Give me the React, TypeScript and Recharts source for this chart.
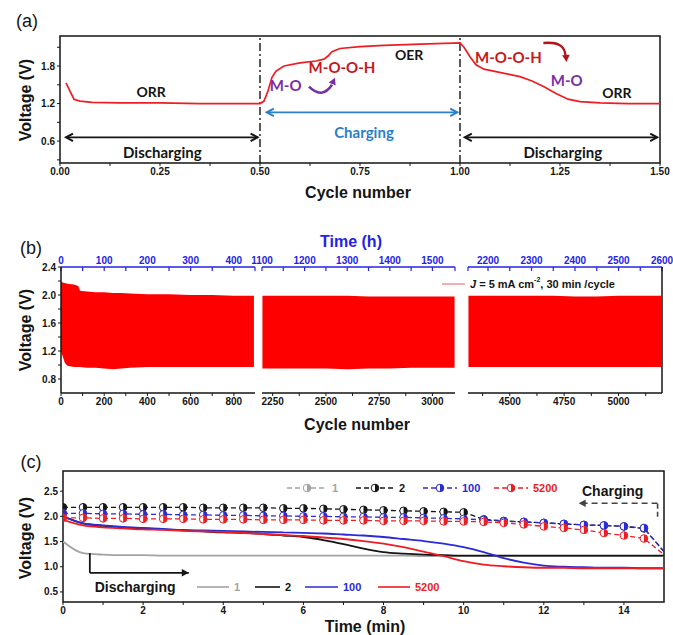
import {
  Area,
  ComposedChart,
  Legend,
  Line,
  LineChart,
  ReferenceArea,
  ReferenceDot,
  ReferenceLine,
  XAxis,
  YAxis,
} from "recharts";

const SANS = '"Liberation Sans", Arial, sans-serif';
const NOTE = 'Lato, "Open Sans", sans-serif';

const INK = "#151515";
const RED = "#ee1d23";
const BLUE = "#2323e6";
const GRAY = "#a3a3a3";
const NAVY = "#2b2bd6";

// (a) one and a half cycles
const cycleA = [
  0.015, 0.025, 0.035, 0.05, 0.08, 0.15, 0.25, 0.35, 0.45, 0.5, 0.51, 0.52, 0.53, 0.54, 0.56, 0.6, 0.64,
  0.66, 0.67, 0.68, 0.7, 0.75, 0.81, 0.9, 1.0, 1.01, 1.025, 1.04, 1.06, 1.09, 1.12, 1.15, 1.18, 1.21, 1.24,
  1.27, 1.3, 1.35, 1.42, 1.5,
];
const voltA = [
  1.53, 1.4, 1.27, 1.24, 1.22, 1.21, 1.21, 1.2, 1.2, 1.2, 1.24, 1.4, 1.62, 1.72, 1.8, 1.85, 1.88, 1.91,
  1.96, 2.03, 2.08, 2.11, 2.13, 2.15, 2.17, 2.1, 1.95, 1.82, 1.75, 1.71, 1.67, 1.63, 1.56, 1.47, 1.36, 1.27,
  1.23, 1.21, 1.2, 1.2,
];

// (b) envelope of the cycling band, three windows of the test
const seg1Cycle = [0, 8, 18, 30, 60, 80, 88, 120, 160, 200, 240, 280, 320, 400, 500, 600, 700, 800, 893];
const seg1Low = [1.2, 1.12, 1.03, 0.99, 0.97, 0.97, 0.97, 0.96, 0.96, 0.95, 0.94, 0.95, 0.96, 0.97, 0.97, 0.97, 0.97, 0.97, 0.97];
const seg1High = [2.19, 2.18, 2.17, 2.16, 2.15, 2.13, 2.06, 2.05, 2.04, 2.04, 2.03, 2.03, 2.02, 2.01, 2.01, 2.0, 2.0, 1.99, 1.99];

const seg2Cycle = [2202, 2300, 2400, 2500, 2600, 2700, 2800, 2900, 3000, 3104];
const seg2Low = [0.95, 0.95, 0.95, 0.95, 0.94, 0.95, 0.95, 0.96, 0.96, 0.96];
const seg2High = [1.99, 1.99, 1.99, 1.99, 1.99, 1.98, 1.98, 1.98, 1.98, 1.98];

const seg3Cycle = [4310, 4400, 4500, 4600, 4700, 4800, 4900, 5000, 5100, 5196];
const seg3Low = [0.97, 0.97, 0.97, 0.97, 0.97, 0.97, 0.97, 0.97, 0.97, 0.97];
const seg3High = [1.99, 1.99, 1.99, 1.99, 1.99, 1.98, 1.98, 1.99, 1.99, 1.99];

// (c) selected cycles, every half minute
const timeC = [
  0, 0.5, 1, 1.5, 2, 2.5, 3, 3.5, 4, 4.5, 5, 5.5, 6, 6.5, 7, 7.5, 8, 8.5, 9, 9.5, 10, 10.5, 11, 11.5, 12,
  12.5, 13, 13.5, 14, 14.5, 15,
];
const cycleNames = ["1", "2", "100", "5200"];

const charge2 = [
  2.18, 2.18, 2.18, 2.18, 2.18, 2.18, 2.18, 2.17, 2.17, 2.17, 2.17, 2.16, 2.16, 2.15, 2.14, 2.13, 2.12,
  2.11, 2.1, 2.09, 2.08, 1.94, 1.91, 1.89, 1.87, 1.85, 1.83, 1.82, 1.8, 1.76, 1.3,
];
const charge100 = [
  2.06, 2.06, 2.05, 2.05, 2.04, 2.04, 2.03, 2.03, 2.02, 2.02, 2.01, 2.01, 2.0, 2.0, 1.99, 1.99, 1.98, 1.98,
  1.97, 1.96, 1.95, 1.93, 1.9, 1.89, 1.87, 1.85, 1.83, 1.82, 1.8, 1.77, 1.3,
];
const charge5200 = [
  1.97, 1.97, 1.96, 1.96, 1.95, 1.95, 1.95, 1.94, 1.94, 1.94, 1.93, 1.93, 1.93, 1.92, 1.92, 1.92, 1.91,
  1.91, 1.91, 1.9, 1.9, 1.89, 1.87, 1.84, 1.8, 1.77, 1.73, 1.67, 1.62, 1.56, 1.24,
];

const discharge1 = [
  1.5, 1.27, 1.24, 1.23, 1.23, 1.22, 1.22, 1.22, 1.22, 1.22, 1.22, 1.22, 1.22, 1.22, 1.22, 1.22, 1.22,
  1.22, 1.21, 1.21, 1.21, 1.21, 1.21, 1.21, 1.21, 1.21, 1.21, 1.21, 1.21, 1.21, 1.21,
];
const discharge2 = [
  2.0, 1.86, 1.81, 1.78, 1.76, 1.74, 1.72, 1.7, 1.68, 1.67, 1.65, 1.62, 1.59, 1.53, 1.45, 1.36, 1.29,
  1.26, 1.24, 1.23, 1.22, 1.22, 1.22, 1.22, 1.22, 1.22, 1.22, 1.22, 1.22, 1.22, 1.22,
];
const discharge100 = [
  2.0, 1.86, 1.82, 1.79, 1.77, 1.75, 1.73, 1.72, 1.71, 1.7, 1.69, 1.68, 1.67, 1.66, 1.64, 1.62, 1.59,
  1.55, 1.51, 1.46, 1.39, 1.29, 1.17, 1.08, 1.02, 1.0, 0.99, 0.98, 0.98, 0.97, 0.97,
];
const discharge5200 = [
  1.93, 1.82, 1.78, 1.76, 1.74, 1.73, 1.71, 1.7, 1.69, 1.67, 1.65, 1.63, 1.61, 1.58, 1.55, 1.51, 1.46,
  1.39, 1.3, 1.21, 1.11, 1.04, 1.01, 0.99, 0.98, 0.98, 0.97, 0.97, 0.97, 0.97, 0.97,
];

const tickFont = { fill: INK, fontSize: 10, fontWeight: 700, fontFamily: SANS };

const toRows = (xs: number[], ys: number[]) => xs.map((t, i) => ({ t, v: ys[i] }));
const toBand = (xs: number[], lo: number[], hi: number[]) => xs.map((cycle, i) => ({ cycle, band: [lo[i], hi[i]] }));

function head(x: number, y: number, a: number, color: string, open: boolean) {
  const L = 7;
  const W = 3.8;
  const bx = x - L * Math.cos(a);
  const by = y - L * Math.sin(a);
  const nx = -Math.sin(a) * W;
  const ny = Math.cos(a) * W;
  const pts = `${bx + nx},${by + ny} ${x},${y} ${bx - nx},${by - ny}`;
  return open ? (
    <polyline points={pts} fill="none" stroke={color} strokeWidth={2} />
  ) : (
    <polygon points={pts} fill={color} stroke="none" />
  );
}

function arrow(color: string, heads: "none" | "end" | "both", open = true, dash?: string, width = 1.8) {
  return (p: any) => {
    const { x1, y1, x2, y2 } = p;
    const a = Math.atan2(y2 - y1, x2 - x1);
    return (
      <g>
        <line x1={x1} y1={y1} x2={x2} y2={y2} stroke={color} strokeWidth={width} strokeDasharray={dash} />
        {heads !== "none" && head(x2, y2, a, color, open)}
        {heads === "both" && head(x1, y1, a + Math.PI, color, open)}
      </g>
    );
  };
}

function note(text: string, color: string, size = 14, family = NOTE) {
  return (p: any) => (
    <text
      x={p.cx}
      y={p.cy}
      fill={color}
      fontSize={size}
      fontWeight={700}
      fontFamily={family}
      textAnchor="middle"
      dominantBaseline="central"
    >
      {text}
    </text>
  );
}

function Caption({ x, y, text, size = 16, color = INK, rotate = false, weight = 700 }: any) {
  return (
    <div
      style={{
        position: "absolute",
        left: x,
        top: y,
        transform: `translate(-50%, -50%)${rotate ? " rotate(-90deg)" : ""}`,
        fontFamily: SANS,
        fontSize: size,
        fontWeight: weight,
        color,
        whiteSpace: "nowrap",
        lineHeight: 1,
      }}
    >
      {text}
    </div>
  );
}

function PanelA() {
  const rows = toRows(cycleA, voltA);
  const yDom: [number, number] = [0.25, 2.28];
  return (
    <div style={{ position: "absolute", left: 0, top: 0 }}>
      <LineChart width={673} height={200} data={rows} margin={{ top: 36, right: 13, bottom: 0, left: 0 }}>
        <XAxis
          type="number"
          dataKey="t"
          domain={[0, 1.5]}
          allowDataOverflow
          ticks={[0, 0.125, 0.25, 0.375, 0.5, 0.625, 0.75, 0.875, 1, 1.125, 1.25, 1.375, 1.5]}
          tickFormatter={(v: number) => (Number.isInteger(v * 4) ? v.toFixed(2) : "")}
          interval={0}
          height={37}
          tickSize={3}
          axisLine={false}
          tickLine={{ stroke: INK }}
          tick={tickFont}
        />
        <YAxis
          type="number"
          domain={yDom}
          allowDataOverflow
          ticks={[0.3, 0.6, 0.9, 1.2, 1.5, 1.8, 2.1]}
          tickFormatter={(v: number) => (Math.abs(v / 0.6 - Math.round(v / 0.6)) < 1e-6 ? v.toFixed(1) : "")}
          interval={0}
          width={60}
          tickSize={3}
          axisLine={false}
          tickLine={{ stroke: INK }}
          tick={tickFont}
        />
        <ReferenceArea x1={0} x2={1.5} y1={yDom[0]} y2={yDom[1]} fill="none" stroke={INK} strokeWidth={1.5} ifOverflow="visible" />
        <ReferenceLine x={0.5} stroke={INK} strokeWidth={1.4} strokeDasharray="8 3 2 3" />
        <ReferenceLine x={1.0} stroke={INK} strokeWidth={1.4} strokeDasharray="8 3 2 3" />
        <ReferenceLine segment={[{ x: 0.015, y: 0.66 }, { x: 0.494, y: 0.66 }]} shape={arrow(INK, "both")} ifOverflow="visible" />
        <ReferenceLine segment={[{ x: 0.517, y: 1.06 }, { x: 0.993, y: 1.06 }]} shape={arrow("#2a7fc9", "both")} ifOverflow="visible" />
        <ReferenceLine segment={[{ x: 1.012, y: 0.66 }, { x: 1.493, y: 0.66 }]} shape={arrow(INK, "both")} ifOverflow="visible" />
        <ReferenceDot x={0.228} y={1.39} shape={note("ORR", INK, 14)} />
        <ReferenceDot x={0.256} y={0.42} shape={note("Discharging", INK, 15)} />
        <ReferenceDot x={0.76} y={0.74} shape={note("Charging", "#2a7fc9", 15)} />
        <ReferenceDot x={0.564} y={1.5} shape={note("M-O", "#7b2fa6", 15)} />
        <ReferenceDot x={0.705} y={1.78} shape={note("M-O-O-H", "#c8161d", 15)} />
        <ReferenceDot x={0.873} y={1.98} shape={note("OER", INK, 14)} />
        <ReferenceDot x={1.121} y={1.95} shape={note("M-O-O-H", "#c8161d", 15)} />
        <ReferenceDot x={1.267} y={1.58} shape={note("M-O", "#7b2fa6", 15)} />
        <ReferenceDot x={1.392} y={1.38} shape={note("ORR", INK, 14)} />
        <ReferenceDot x={1.257} y={0.42} shape={note("Discharging", INK, 15)} />
        <ReferenceDot
          x={0.655}
          y={1.47}
          shape={(p: any) => (
            <g>
              <path d={`M${p.cx - 13},${p.cy} Q${p.cx},${p.cy + 13} ${p.cx + 10},${p.cy - 2}`} fill="none" stroke="#7b2fa6" strokeWidth={2.6} />
              {head(p.cx + 13, p.cy - 9, -1.15, "#7b2fa6", false)}
            </g>
          )}
        />
        <ReferenceDot
          x={1.236}
          y={2.04}
          shape={(p: any) => (
            <g>
              <path d={`M${p.cx - 11},${p.cy - 8} Q${p.cx + 10},${p.cy - 10} ${p.cx + 11},${p.cy + 4}`} fill="none" stroke="#b5121b" strokeWidth={2.4} />
              {head(p.cx + 12, p.cy + 11, 1.5, "#b5121b", false)}
            </g>
          )}
        />
        <Line dataKey="v" type="linear" stroke={RED} strokeWidth={1.7} dot={false} isAnimationActive={false} />
      </LineChart>
    </div>
  );
}

type SegProps = {
  left: number;
  width: number;
  ml: number;
  rows: { cycle: number; band: number[] }[];
  domain: [number, number];
  bottomTicks: number[];
  topTicks: number[];
  side: "left" | "none" | "right";
  legend?: boolean;
};

// 30 min per cycle: the time axis on top is the cycle axis over two
const hourOf = (r: any) => r.cycle / 2;
const upperOf = (r: any) => r.band[1];

function Segment({ left, width, ml, rows, domain, bottomTicks, topTicks, side, legend }: SegProps) {
  const yDom: [number, number] = [0.6, 2.4];
  return (
    <div style={{ position: "absolute", left, top: 225 }}>
      <ComposedChart width={width} height={200} data={rows} margin={{ top: 41, right: 10, bottom: 0, left: ml }}>
        <XAxis
          type="number"
          dataKey="cycle"
          domain={domain}
          allowDataOverflow
          ticks={bottomTicks}
          tickFormatter={(v: number) => (v % 200 === 0 && v < 1000) || (v > 1000 && v % 250 === 0) ? String(v) : ""}
          interval={0}
          height={32}
          tickSize={3}
          axisLine={{ stroke: INK, strokeWidth: 1.5 }}
          tickLine={{ stroke: INK }}
          tick={tickFont}
        />
        <XAxis
          xAxisId="top"
          orientation="top"
          type="number"
          dataKey={hourOf}
          domain={[domain[0] / 2, domain[1] / 2]}
          allowDataOverflow
          ticks={topTicks}
          tickFormatter={(v: number) => (v % 100 === 0 ? String(v) : "")}
          interval={0}
          height={1}
          tickSize={-4}
          tickMargin={7}
          axisLine={{ stroke: BLUE, strokeWidth: 1.6 }}
          tickLine={{ stroke: BLUE, strokeWidth: 1.2 }}
          tick={{ ...tickFont, fill: BLUE }}
        />
        {side === "left" && (
          <YAxis
            type="number"
            domain={yDom}
            allowDataOverflow
            ticks={[0.8, 1.0, 1.2, 1.4, 1.6, 1.8, 2.0, 2.2, 2.4]}
            tickFormatter={(v: number) => (Math.round(v * 10) % 4 === 0 ? v.toFixed(1) : "")}
            interval={0}
            width={61}
            tickSize={3}
            axisLine={{ stroke: INK, strokeWidth: 1.5 }}
            tickLine={{ stroke: INK }}
            tick={tickFont}
          />
        )}
        {side === "none" && <YAxis type="number" domain={yDom} allowDataOverflow hide />}
        {side === "right" && (
          <YAxis
            type="number"
            orientation="right"
            domain={yDom}
            allowDataOverflow
            width={1}
            tick={false}
            axisLine={{ stroke: INK, strokeWidth: 1.5 }}
          />
        )}
        {legend && (
          <Legend
            layout="horizontal"
            verticalAlign="middle"
            align="center"
            wrapperStyle={{ left: 0, top: 0, width: 248, height: 80 }}
            content={() => (
              <svg width={248} height={80}>
                <line x1={17} y1={59} x2={40} y2={59} stroke="#f29a9a" strokeWidth={1.6} />
                <text x={45} y={59} dominantBaseline="central" fontFamily={SANS} fontSize={11} fontWeight={700} fill={INK}>
                  <tspan fontStyle="italic">J</tspan>
                  <tspan> = 5 mA cm</tspan>
                  <tspan fontSize={7} dy={-5}>-2</tspan>
                  <tspan dy={5}>,  30 min /cycle</tspan>
                </text>
              </svg>
            )}
          />
        )}
        <Area dataKey="band" type="linear" stroke="none" fill="#ff0000" fillOpacity={1} isAnimationActive={false} />
        <Line
          xAxisId="top"
          dataKey={upperOf}
          stroke="none"
          dot={false}
          activeDot={false}
          legendType="none"
          isAnimationActive={false}
        />
      </ComposedChart>
    </div>
  );
}

function PanelB() {
  const d1: [number, number] = [0, 898];
  const d2: [number, number] = [2200, 3106];
  const d3: [number, number] = [4308, 5200];
  return (
    <>
      <Segment
        left={0}
        width={265}
        ml={0}
        rows={toBand(seg1Cycle, seg1Low, seg1High)}
        domain={d1}
        bottomTicks={[0, 100, 200, 300, 400, 500, 600, 700, 800]}
        topTicks={[0, 50, 100, 150, 200, 250, 300, 350, 400, 449]}
        side="left"
      />
      <Segment
        left={252}
        width={213}
        ml={10}
        rows={toBand(seg2Cycle, seg2Low, seg2High)}
        domain={d2}
        bottomTicks={[2250, 2375, 2500, 2625, 2750, 2875, 3000]}
        topTicks={[1100, 1150, 1200, 1250, 1300, 1350, 1400, 1450, 1500, 1553]}
        side="none"
      />
      <Segment
        left={425}
        width={248}
        ml={43}
        rows={toBand(seg3Cycle, seg3Low, seg3High)}
        domain={d3}
        bottomTicks={[4375, 4500, 4625, 4750, 4875, 5000, 5125]}
        topTicks={[2154, 2200, 2250, 2300, 2350, 2400, 2450, 2500, 2550, 2600]}
        side="right"
        legend
      />
    </>
  );
}

function halfDot(color: string) {
  return (p: any) => {
    const { cx, cy, index } = p;
    if (cx == null || index === timeC.length - 1) return <g key={`d${index}`} />;
    const r = 3.8;
    return (
      <g key={`d${index}`}>
        <circle cx={cx} cy={cy} r={r} fill="#fff" stroke={color} strokeWidth={1} />
        <path d={`M${cx},${cy - r} A${r},${r} 0 0 1 ${cx},${cy + r} Z`} fill={color} />
      </g>
    );
  };
}

function LegendC() {
  const colors = [GRAY, INK, NAVY, RED];
  const topX = [287, 356, 423, 494];
  const topW = [40, 38, 34, 34];
  const botX = [197, 255, 305, 378];
  const botW = [32, 25, 33, 32];
  const r = 3.8;
  return (
    <svg width={673} height={185}>
      {cycleNames.map((name, i) => {
        const c = colors[i];
        const mx = topX[i] + topW[i] / 2;
        return (
          <g key={`t${name}`}>
            <line x1={topX[i]} y1={38} x2={topX[i] + topW[i]} y2={38} stroke={c} strokeWidth={1.4} strokeDasharray="5 3" />
            <circle cx={mx} cy={38} r={r} fill="#fff" stroke={c} strokeWidth={1} />
            <path d={`M${mx},${38 - r} A${r},${r} 0 0 1 ${mx},${38 + r} Z`} fill={c} />
            <text x={topX[i] + topW[i] + 5} y={38} dominantBaseline="central" fontFamily={SANS} fontSize={11} fontWeight={700} fill={c}>
              {name}
            </text>
          </g>
        );
      })}
      {cycleNames.map((name, i) => {
        const c = colors[i];
        return (
          <g key={`b${name}`}>
            <line x1={botX[i]} y1={137} x2={botX[i] + botW[i]} y2={137} stroke={c} strokeWidth={1.6} />
            <text x={botX[i] + botW[i] + 5} y={137} dominantBaseline="central" fontFamily={SANS} fontSize={11} fontWeight={700} fill={c}>
              {name}
            </text>
          </g>
        );
      })}
    </svg>
  );
}

function PanelC() {
  const yDom: [number, number] = [0.3, 2.9];
  const charges = [
    { name: "2", color: INK, ys: charge2 },
    { name: "100", color: NAVY, ys: charge100 },
    { name: "5200", color: RED, ys: charge5200 },
  ];
  const discharges = [
    { name: "1", color: GRAY, ys: discharge1 },
    { name: "2", color: INK, ys: discharge2 },
    { name: "100", color: NAVY, ys: discharge100 },
    { name: "5200", color: RED, ys: discharge5200 },
  ];
  return (
    <div style={{ position: "absolute", left: 0, top: 450 }}>
      <LineChart width={673} height={185} margin={{ top: 20, right: 9, bottom: 0, left: 0 }}>
        <XAxis
          type="number"
          dataKey="t"
          domain={[0, 15]}
          allowDataOverflow
          ticks={[0, 1, 2, 3, 4, 5, 6, 7, 8, 9, 10, 11, 12, 13, 14]}
          tickFormatter={(v: number) => (v % 2 === 0 ? String(v) : "")}
          interval={0}
          height={33}
          tickSize={3}
          axisLine={false}
          tickLine={{ stroke: INK }}
          tick={tickFont}
        />
        <XAxis
          xAxisId="top"
          orientation="top"
          type="number"
          dataKey="t"
          domain={[0, 15]}
          allowDataOverflow
          ticks={[1, 2, 3, 4, 5, 6, 7, 8, 9, 10, 11, 12, 13, 14]}
          tick={false}
          interval={0}
          height={1}
          tickSize={-3}
          axisLine={false}
          tickLine={{ stroke: INK }}
        />
        <YAxis
          type="number"
          domain={yDom}
          allowDataOverflow
          ticks={[0.5, 1.0, 1.5, 2.0, 2.5]}
          tickFormatter={(v: number) => v.toFixed(1)}
          interval={0}
          width={63}
          tickSize={3}
          axisLine={false}
          tickLine={{ stroke: INK }}
          tick={tickFont}
        />
        <ReferenceArea x1={0} x2={15} y1={yDom[0]} y2={yDom[1]} fill="none" stroke={INK} strokeWidth={1.5} ifOverflow="visible" />
        <Legend
          layout="horizontal"
          verticalAlign="middle"
          align="center"
          wrapperStyle={{ left: 0, top: 0, width: 673, height: 185 }}
          content={() => <LegendC />}
        />
        {discharges.map((s) => (
          <Line
            key={`dis${s.name}`}
            data={toRows(timeC, s.ys)}
            dataKey="v"
            type="monotone"
            stroke={s.color}
            strokeWidth={1.8}
            dot={false}
            isAnimationActive={false}
          />
        ))}
        {charges.map((s) => (
          <Line
            key={`chg${s.name}`}
            data={toRows(timeC, s.ys)}
            dataKey="v"
            type="linear"
            stroke={s.color}
            strokeWidth={1.3}
            strokeDasharray="5 3"
            dot={halfDot(s.color)}
            isAnimationActive={false}
          />
        ))}
        <Line
          xAxisId="top"
          data={toRows(timeC, charge2)}
          dataKey="v"
          stroke="none"
          dot={false}
          activeDot={false}
          legendType="none"
          isAnimationActive={false}
        />
        <ReferenceLine segment={[{ x: 0.67, y: 1.27 }, { x: 0.67, y: 0.88 }]} shape={arrow(INK, "none")} />
        <ReferenceLine segment={[{ x: 0.67, y: 0.88 }, { x: 3.14, y: 0.88 }]} shape={arrow(INK, "end", false)} />
        <ReferenceLine segment={[{ x: 14.84, y: 1.99 }, { x: 14.84, y: 2.26 }]} shape={arrow("#444", "none", false, "5 3", 1.6)} />
        <ReferenceLine segment={[{ x: 14.84, y: 2.26 }, { x: 12.87, y: 2.26 }]} shape={arrow("#444", "end", false, "6 4", 1.6)} />
        <ReferenceDot x={1.8} y={0.6} shape={note("Discharging", INK, 14, SANS)} />
        <ReferenceDot x={13.72} y={2.5} shape={note("Charging", INK, 14, SANS)} />
      </LineChart>
    </div>
  );
}

export default function App() {
  return (
    <div style={{ position: "fixed", left: 0, top: 0, width: 673, height: 635, background: "#fff", overflow: "hidden" }}>
      <PanelA />
      <PanelB />
      <PanelC />
      <Caption x={27} y={21} text="(a)" size={18} weight={400} />
      <Caption x={26} y={100} text="Voltage (V)" rotate />
      <Caption x={358} y={193} text="Cycle number" />
      <Caption x={31} y={248} text="(b)" size={18} weight={400} />
      <Caption x={351} y={242} text="Time (h)" color={BLUE} />
      <Caption x={26} y={330} text="Voltage (V)" rotate />
      <Caption x={357} y={425} text="Cycle number" />
      <Caption x={31} y={462} text="(c)" size={18} weight={400} />
      <Caption x={26} y={538} text="Voltage (V)" rotate />
      <Caption x={365} y={627} text="Time (min)" />
    </div>
  );
}
